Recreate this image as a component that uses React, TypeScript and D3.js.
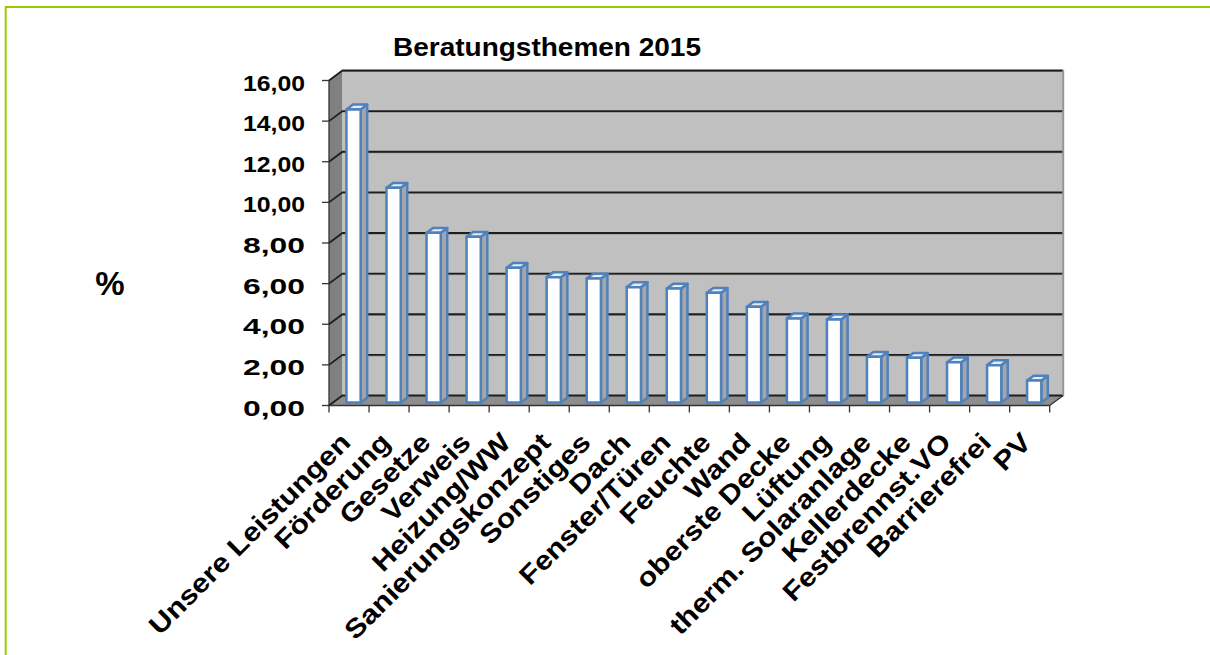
import React from "react";
import * as d3 from "d3";

const categories: string[] = [
  "Unsere Leistungen", "Förderung", "Gesetze", "Verweis", "Heizung/WW",
  "Sanierungskonzept", "Sonstiges", "Dach", "Fenster/Türen", "Feuchte",
  "Wand", "oberste Decke", "Lüftung", "therm. Solaranlage", "Kellerdecke",
  "Festbrennst.VO", "Barrierefrei", "PV",
];
const values: number[] = [
  14.43, 10.57, 8.36, 8.16, 6.63, 6.17, 6.1, 5.68, 5.61, 5.4,
  4.71, 4.14, 4.09, 2.25, 2.2, 1.98, 1.84, 1.08,
];
const yTicks: number[] = [0, 2, 4, 6, 8, 10, 12, 14, 16];
const title = "Beratungsthemen 2015";
const yLabel = "%";

const W = 1210;
const H = 655;
const FONT = "'Liberation Sans', Arial, sans-serif";

export default function App() {
  const x = d3.scaleBand<string>().domain(categories).range([329, 1049.7]).padding(0);
  const y = d3.scaleLinear().domain([0, 16]).range([405.5, 80.5]);
  const depth = { dx: 13.5, dy: -10 };
  const P = (px: number, py: number, t: number): [number, number] => [px + t * depth.dx, py + t * depth.dy];
  const poly = (pts: [number, number][]) => "M" + pts.map((p) => p.join(",")).join("L") + "Z";
  const fmt = (v: number) => v.toFixed(2).replace(".", ",");

  const x0 = x.range()[0];
  const x1 = x.range()[1];
  const y0 = y(0);
  const yTop = y(16);

  const sideWall = poly([P(x0, yTop, 0), P(x0, yTop, 1), P(x0, y0, 1), P(x0, y0, 0)]);
  const backWall = poly([P(x0, yTop, 1), P(x1, yTop, 1), P(x1, y0, 1), P(x0, y0, 1)]);
  const floor = poly([P(x0, y0, 0), P(x0, y0, 1), P(x1, y0, 1), P(x1, y0, 0)]);

  const bw = x.bandwidth();
  const tF = 0.3;
  const tB = 0.78;
  const blue = "#4f81bd";

  return (
    <svg width={W} height={H} style={{ position: "absolute", left: 0, top: 0, background: "#fff" }}>
      <path d={`M5.7,${H}V7H${W}`} fill="none" stroke="#99cc00" strokeWidth={2} />
      <text x={547} y={55.5} textAnchor="middle" fontFamily={FONT} fontWeight="bold" fontSize={26.5}
        textLength={308} lengthAdjust="spacingAndGlyphs">{title}</text>
      <text x={110} y={295} textAnchor="middle" fontFamily={FONT} fontWeight="bold" fontSize={33}>{yLabel}</text>

      {/* walls */}
      <path d={sideWall} fill="#808080" />
      <path d={backWall} fill="#c0c0c0" />
      <path d={floor} fill="#8e8e8e" />

      {/* gridlines */}
      {yTicks.map((v) => {
        const a = P(x0, y(v), 0);
        const b = P(x0, y(v), 1);
        const c = P(x1, y(v), 1);
        return (
          <g key={"g" + v}>
            <path d={`M${b[0]},${b[1] + 1}H${c[0]}`} stroke="#8a8a8a" strokeWidth={1} />
            <path d={`M${a[0]},${a[1]}L${b[0]},${b[1]}H${c[0]}`} fill="none" stroke="#1e1e1e" strokeWidth={1.8} />
          </g>
        );
      })}
      {/* right edge of back wall */}
      <path d={`M${P(x1, yTop, 1)[0]},${P(x1, yTop, 1)[1]}V${P(x1, y0, 1)[1]}`} stroke="#969696" strokeWidth={2} />
      {/* floor right diagonal */}
      <path d={`M${x1},${y0}L${P(x1, y0, 1)[0]},${P(x1, y0, 1)[1]}`} stroke="#333" strokeWidth={1.3} />

      {/* bars */}
      {categories.map((c, i) => {
        const v = values[i];
        const bl = (x(c) as number) + bw * 0.335;
        const br = (x(c) as number) + bw * 0.69;
        const yt = y(v);
        const f1 = P(bl, y0, tF), f2 = P(br, y0, tF), f3 = P(br, yt, tF), f4 = P(bl, yt, tF);
        const b2 = P(br, y0, tB), b3 = P(br, yt, tB), b4 = P(bl, yt, tB);
        return (
          <g key={c} stroke={blue} strokeWidth={2.5} strokeLinejoin="round">
            <path d={poly([f2, b2, b3, f3])} fill="#a6a6a6" />
            <path d={poly([f4, f3, b3, b4])} fill="#e3ebf5" />
            <path d={poly([f1, f2, f3, f4])} fill="#ffffff" />
          </g>
        );
      })}

      {/* axes */}
      <path d={`M${x0},${yTop}V${y0}H${x1}`} fill="none" stroke="#333" strokeWidth={1.3} />
      {yTicks.map((v) => (
        <g key={"t" + v}>
          <path d={`M${x0 - 7},${y(v)}H${x0}`} stroke="#333" strokeWidth={1.3} />
          <text x={305} y={y(v) + 10} textAnchor="end" fontFamily={FONT} fontWeight="bold" fontSize={22}
            textLength={62} lengthAdjust="spacingAndGlyphs">{fmt(v)}</text>
        </g>
      ))}
      {categories.concat([""]).map((c, i) => {
        const xx = x0 + i * x.step();
        return <path key={"xt" + i} d={`M${xx},${y0}V${y0 + 7}`} stroke="#333" strokeWidth={1.3} />;
      })}
      {categories.map((c) => {
        const cx = (x(c) as number) + bw / 2 + 3;
        const cy = 444;
        return (
          <text key={"l" + c} transform={`translate(${cx},${cy}) rotate(-45) scale(1.14,1)`} textAnchor="end"
            fontFamily={FONT} fontWeight="bold" fontSize={26.5}>{c}</text>
        );
      })}
    </svg>
  );
}
